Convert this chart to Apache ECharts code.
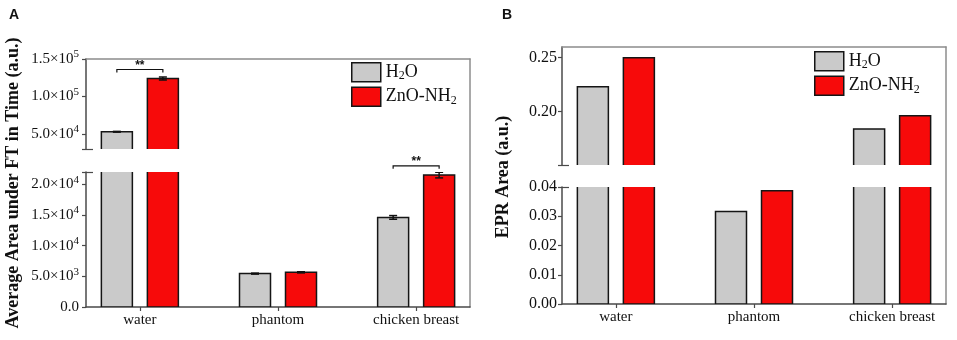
<!DOCTYPE html>
<html lang="en">
<head>
    <meta charset="UTF-8">
    <title>FT area / EPR area</title>
    <script src="https://cdn.jsdelivr.net/npm/echarts@6/dist/echarts.min.js"></script>
    <style>
        html, body { margin: 0; padding: 0; background: #fff; }
        #chart { width: 957px; height: 340px; }
    </style>
</head>
<body>
    <div id="chart"></div>
    <script>
        // categories and values
        const cats = ['water', 'phantom', 'chicken breast'];
        const seriesNames = ['H2O', 'ZnO-NH2'];

        // panel A: average area under FT in time
        const aH2O = [53000, 5440, 14600];
        const aZnO = [124000, 5650, 21500];
        const aH2OErr = [500, 80, 300];
        const aZnOErr = [2000, 90, 460];
        const aUpperTicks = [50000, 100000, 150000];
        const aLowerTicks = [0, 5000, 10000, 15000, 20000];
        // significance brackets: [category, height]
        const aSigUpper = [[0, 136000]];
        const aSigLower = [[2, 23000]];

        // panel B: EPR area
        const bH2O = [0.223, 0.0316, 0.1835];
        const bZnO = [0.250, 0.0387, 0.196];
        const bUpperTicks = [0.20, 0.25];
        const bLowerTicks = [0, 0.01, 0.02, 0.03, 0.04];

        const SERIF = '"Liberation Serif", "Times New Roman", serif';
        const GRAY = '#cacaca';
        const RED = '#f70a0a';
        const EDGE = '#151515';
        const FRAME = '#8c8c8c';
        const AXIS = '#4a4a4a';
        const BAR_W = 31;
        const BAR_GAP = 15;
        const OFF = (BAR_W + BAR_GAP) / 2;

        function sci(v) {
            if (v === 0) return '{n|0.0}';
            const e = Math.floor(Math.log10(v) + 1e-9);
            const m = (v / Math.pow(10, e)).toFixed(1);
            return '{n|' + m + '×10}{s|' + e + '}';
        }
        function chem(name) {
            return name === 'H2O' ? '{n|H}{b|2}{n|O}' : '{n|ZnO-NH}{b|2}';
        }
        const pts = arr => arr.map((v, i) => [i, v]);

        // bars are drawn as custom rects so the axis break cuts them without a border
        function barRender(off) {
            return function (params, api) {
                const t = api.coord([api.value(0), api.value(1)]);
                const b = api.coord([api.value(0), 0]);
                return {
                    type: 'rect',
                    shape: { x: t[0] + off - BAR_W / 2, y: t[1], width: BAR_W, height: b[1] - t[1] },
                    style: api.style({ stroke: EDGE, lineWidth: 1.5 })
                };
            };
        }
        function errRender(off) {
            return function (params, api) {
                const x = api.value(0), m = api.value(1), e = api.value(2);
                const t = api.coord([x, m + e]);
                const b = api.coord([x, m - e]);
                const cx = t[0] + off;
                const st = { stroke: '#111', lineWidth: 1.5 };
                return {
                    type: 'group',
                    children: [
                        { type: 'line', shape: { x1: cx, y1: t[1], x2: cx, y2: b[1] }, style: st },
                        { type: 'line', shape: { x1: cx - 4, y1: t[1], x2: cx + 4, y2: t[1] }, style: st },
                        { type: 'line', shape: { x1: cx - 4, y1: b[1], x2: cx + 4, y2: b[1] }, style: st }
                    ]
                };
            };
        }
        function sigRender(params, api) {
            const p = api.coord([api.value(0), api.value(1)]);
            const x1 = p[0] - OFF, x2 = p[0] + OFF, y = p[1];
            return {
                type: 'group',
                children: [
                    {
                        type: 'polyline',
                        shape: { points: [[x1, y + 3], [x1, y], [x2, y], [x2, y + 3]] },
                        style: { stroke: '#111', fill: null, lineWidth: 1.2 }
                    },
                    {
                        type: 'text', x: p[0], y: y - 4,
                        style: { text: '**', font: 'bold 12px "Liberation Sans", Arial', align: 'center', verticalAlign: 'middle', fill: '#111' }
                    }
                ]
            };
        }

        // grids: 0 A frame, 1 A upper, 2 A lower, 3 B frame, 4 B upper, 5 B lower
        const grids = [
            { left: 86, top: 59, width: 384, height: 248 },
            { left: 86, top: 59, width: 384, height: 90 },
            { left: 86, top: 172, width: 384, height: 135 },
            { left: 562, top: 47, width: 384, height: 257 },
            { left: 562, top: 47, width: 384, height: 118 },
            { left: 562, top: 187, width: 384, height: 117 }
        ];

        function frameX(g) {
            return {
                gridIndex: g, type: 'value', position: 'top', min: 0, max: 1,
                axisLine: { show: true, onZero: false, lineStyle: { color: FRAME, width: 1.5 } },
                axisTick: { show: false }, axisLabel: { show: false }, splitLine: { show: false }
            };
        }
        function frameY(g) {
            return {
                gridIndex: g, type: 'value', position: 'right', min: 0, max: 1,
                axisLine: { show: true, onZero: false, lineStyle: { color: FRAME, width: 1.5 } },
                axisTick: { show: false }, axisLabel: { show: false }, splitLine: { show: false }
            };
        }
        function hiddenX(g) {
            return { gridIndex: g, type: 'value', min: -0.39, max: 2.39, show: false, axisLine: { onZero: false }, splitLine: { show: false } };
        }
        function catX(g, size) {
            return {
                gridIndex: g, type: 'value', position: 'bottom', min: -0.39, max: 2.39,
                axisLine: { show: true, onZero: false, lineStyle: { color: AXIS, width: 1.5 } },
                axisTick: { show: true, length: 4, customValues: [0, 1, 2], lineStyle: { color: AXIS, width: 1.2 } },
                axisLabel: {
                    customValues: [0, 1, 2], margin: 6,
                    formatter: v => cats[Math.round(v)],
                    fontFamily: SERIF, fontSize: size, color: '#111'
                },
                splitLine: { show: false }
            };
        }
        function valY(g, min, max, ticks, labels, fmt, size, margin) {
            return {
                gridIndex: g, type: 'value', position: 'left', min: min, max: max,
                axisLine: { show: true, onZero: false, lineStyle: { color: AXIS, width: 1.5 } },
                axisTick: { show: true, length: 4, customValues: ticks, lineStyle: { color: AXIS, width: 1.2 } },
                axisLabel: {
                    customValues: labels, margin: margin, formatter: fmt,
                    fontFamily: SERIF, fontSize: size, color: '#111',
                    rich: {
                        n: { fontFamily: SERIF, fontSize: size, lineHeight: 20, verticalAlign: 'middle', color: '#111' },
                        s: { fontFamily: SERIF, fontSize: 11, lineHeight: 13, verticalAlign: 'top', color: '#111' }
                    }
                },
                splitLine: { show: false }
            };
        }
        // short inward marks at the axis break
        function breakY(g, min, max, at) {
            return {
                gridIndex: g, type: 'value', position: 'left', min: min, max: max,
                axisLine: { show: false, onZero: false },
                axisTick: { show: true, inside: true, length: 7, customValues: [at], lineStyle: { color: AXIS, width: 1.2 } },
                axisLabel: { show: false }, splitLine: { show: false }
            };
        }

        const fixed2 = v => '{n|' + v.toFixed(2) + '}';
        const xAxes = [frameX(0), hiddenX(1), catX(2, 15), frameX(3), hiddenX(4), catX(5, 15)];
        const yAxes = [
            frameY(0),
            valY(1, 30000, 150000, [30000].concat(aUpperTicks), aUpperTicks, sci, 15, 7),
            valY(2, 0, 22000, aLowerTicks.concat([22000]), aLowerTicks, sci, 15, 7),
            frameY(3),
            valY(4, 0.15, 0.26, [0.15].concat(bUpperTicks), bUpperTicks, fixed2, 16, 5),
            valY(5, 0, 0.04, bLowerTicks, bLowerTicks, fixed2, 16, 5),
            breakY(1, 30000, 150000, 30000),
            breakY(2, 0, 22000, 22000),
            breakY(4, 0.15, 0.26, 0.15),
            breakY(5, 0, 0.04, 0.04)
        ];

        function bars(axis, h2o, zno) {
            const base = { type: 'custom', xAxisIndex: axis, yAxisIndex: axis, clip: true, encode: { x: 0, y: 1 } };
            return [
                Object.assign({}, base, { name: seriesNames[0], renderItem: barRender(-OFF), data: pts(h2o), itemStyle: { color: GRAY, borderColor: EDGE, borderWidth: 1.5 } }),
                Object.assign({}, base, { name: seriesNames[1], renderItem: barRender(OFF), data: pts(zno), itemStyle: { color: RED, borderColor: EDGE, borderWidth: 1.5 } })
            ];
        }
        function errs(axis, h2o, h2oErr, zno, znoErr) {
            return [
                { type: 'custom', xAxisIndex: axis, yAxisIndex: axis, clip: true, z: 3, renderItem: errRender(-OFF), data: h2o.map((v, i) => [i, v, h2oErr[i]]) },
                { type: 'custom', xAxisIndex: axis, yAxisIndex: axis, clip: true, z: 3, renderItem: errRender(OFF), data: zno.map((v, i) => [i, v, znoErr[i]]) }
            ];
        }
        function sig(axis, data) {
            return { type: 'custom', xAxisIndex: axis, yAxisIndex: axis, clip: false, z: 3, renderItem: sigRender, data: data };
        }

        const series = [].concat(
            bars(1, aH2O, aZnO), errs(1, aH2O, aH2OErr, aZnO, aZnOErr), [sig(1, aSigUpper)],
            bars(2, aH2O, aZnO), errs(2, aH2O, aH2OErr, aZnO, aZnOErr), [sig(2, aSigLower)],
            bars(4, bH2O, bZnO),
            bars(5, bH2O, bZnO)
        );

        function legend(left, top) {
            return {
                left: left, top: top, orient: 'vertical', icon: 'rect', padding: 0,
                data: seriesNames, itemWidth: 29, itemHeight: 19, itemGap: 4,
                itemStyle: { borderColor: EDGE, borderWidth: 1.5 },
                formatter: chem,
                textStyle: {
                    rich: {
                        n: { fontFamily: SERIF, fontSize: 18, lineHeight: 20, verticalAlign: 'middle', color: '#111' },
                        b: { fontFamily: SERIF, fontSize: 12, lineHeight: 8, verticalAlign: 'bottom', color: '#111' }
                    }
                }
            };
        }

        const chart = echarts.init(document.getElementById('chart'));
        chart.setOption({
            animation: false,
            title: [
                { text: 'A', left: 4, top: 3, textStyle: { fontFamily: '"Liberation Sans", Arial', fontWeight: 'bold', fontSize: 14, color: '#111' } },
                { text: 'B', left: 497, top: 3, textStyle: { fontFamily: '"Liberation Sans", Arial', fontWeight: 'bold', fontSize: 14, color: '#111' } }
            ],
            legend: [legend(351, 62), legend(814, 51)],
            grid: grids,
            xAxis: xAxes,
            yAxis: yAxes,
            series: series,
            graphic: [
                {
                    type: 'text', x: 13, y: 183, rotation: Math.PI / 2,
                    style: { text: 'Average Area under FT in Time (a.u.)', font: 'bold 18px ' + SERIF, align: 'center', verticalAlign: 'middle', fill: '#111' }
                },
                {
                    type: 'text', x: 503, y: 177, rotation: Math.PI / 2,
                    style: { text: 'EPR Area (a.u.)', font: 'bold 18px ' + SERIF, align: 'center', verticalAlign: 'middle', fill: '#111' }
                }
            ]
        });
    </script>
</body>
</html>
